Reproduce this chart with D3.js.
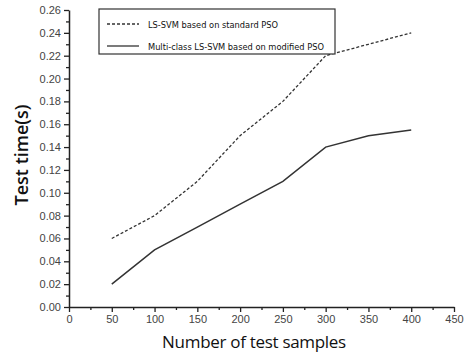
<!DOCTYPE html>
<html>
<head>
<meta charset="utf-8">
<script src="https://cdn.jsdelivr.net/npm/d3@7"></script>
<style>
  body { margin: 0; background: #fff; }
  svg { display: block; }
</style>
</head>
<body>
<div id="chart"></div>
<script>
// data
const samples = [50, 100, 150, 200, 250, 300, 350, 400];
const standardPso = [0.06, 0.08, 0.11, 0.15, 0.18, 0.22, 0.23, 0.24];
const modifiedPso = [0.02, 0.05, 0.07, 0.09, 0.11, 0.14, 0.15, 0.155];
const seriesNames = ['LS-SVM based on standard PSO', 'Multi-class LS-SVM based on modified PSO'];
const xTicks = d3.range(0, 451, 50);
const yTicks = d3.range(0, 0.261, 0.02);

const w = 473, h = 362;
const m = { left: 69, right: 19, top: 10, bottom: 55 };

const svg = d3.select('#chart').append('svg')
  .attr('width', w)
  .attr('height', h);

const x = d3.scaleLinear().domain([0, 450]).range([m.left, w - m.right]);
const y = d3.scaleLinear().domain([0, 0.26]).range([h - m.bottom, m.top]);

//minor ticks first so majors draw on top
svg.append('g')
  .attr('transform', `translate(0,${h - m.bottom})`)
  .call(d3.axisBottom(x).tickValues(d3.range(25, 450, 50)).tickSize(3).tickFormat(''))
  .call(g => g.select('.domain').remove());
svg.append('g')
  .attr('transform', `translate(${m.left},0)`)
  .call(d3.axisLeft(y).tickValues(d3.range(0.01, 0.26, 0.02)).tickSize(3).tickFormat(''))
  .call(g => g.select('.domain').remove());

const xAxis = svg.append('g')
  .attr('transform', `translate(0,${h - m.bottom})`)
  .call(d3.axisBottom(x).tickValues(xTicks).tickSize(5).tickSizeOuter(0).tickPadding(3));

const yAxis = svg.append('g')
  .attr('transform', `translate(${m.left},0)`)
  .call(d3.axisLeft(y).tickValues(yTicks).tickSize(5).tickSizeOuter(0).tickPadding(3)
    .tickFormat(d3.format('.2f')));

svg.selectAll('.tick line').attr('stroke', '#222').attr('stroke-width', 1.3);
svg.selectAll('.domain').attr('stroke', '#222').attr('stroke-width', 1.5);
svg.selectAll('.tick text')
  .attr('fill', '#444')
  .style('font-family', 'Liberation Sans, Arial, sans-serif')
  .style('font-size', '11px');

// series lines
const line = d3.line()
  .x((d, i) => x(samples[i]))
  .y(d => y(d));

svg.append('path')
  .datum(standardPso)
  .attr('fill', 'none')
  .attr('stroke', '#333')
  .attr('stroke-width', 1.3)
  .attr('stroke-dasharray', '3,2')
  .attr('d', line);

svg.append('path')
  .datum(modifiedPso)
  .attr('fill', 'none')
  .attr('stroke', '#333')
  .attr('stroke-width', 1.5)
  .attr('d', line);

// legend
const legend = svg.append('g');
legend.append('rect')
  .attr('x', 99).attr('y', 9)
  .attr('width', 236).attr('height', 45)
  .attr('fill', '#fff')
  .attr('stroke', '#333')
  .attr('stroke-width', 1.2);

const dashes = ['3,2', null];
seriesNames.forEach((name, i) => {
  const ly = 24 + i * 22;
  legend.append('line')
    .attr('x1', 107).attr('x2', 139)
    .attr('y1', ly).attr('y2', ly)
    .attr('stroke', '#333')
    .attr('stroke-width', 1.3)
    .attr('stroke-dasharray', dashes[i]);
  legend.append('text')
    .attr('x', 148).attr('y', ly + 3.5)
    .attr('fill', '#111')
    .style('font-family', 'DejaVu Sans Condensed, sans-serif')
    .style('font-stretch', 'condensed')
    .style('font-size', '9.2px')
    .text(name);
});

// axis titles
svg.append('text')
  .attr('x', 254).attr('y', 348)
  .attr('text-anchor', 'middle')
  .attr('fill', '#111')
  .style('font-family', 'Open Sans, sans-serif')
  .style('font-size', '17px')
  .style('letter-spacing', '-0.3px')
  .text('Number of test samples');

svg.append('text')
  .attr('transform', 'translate(28,155) rotate(-90)')
  .attr('text-anchor', 'middle')
  .attr('fill', '#111')
  .style('font-family', 'Open Sans, sans-serif')
  .style('font-size', '18px')
  .style('font-weight', 600)
  .text('Test time(s)');
</script>
</body>
</html>
